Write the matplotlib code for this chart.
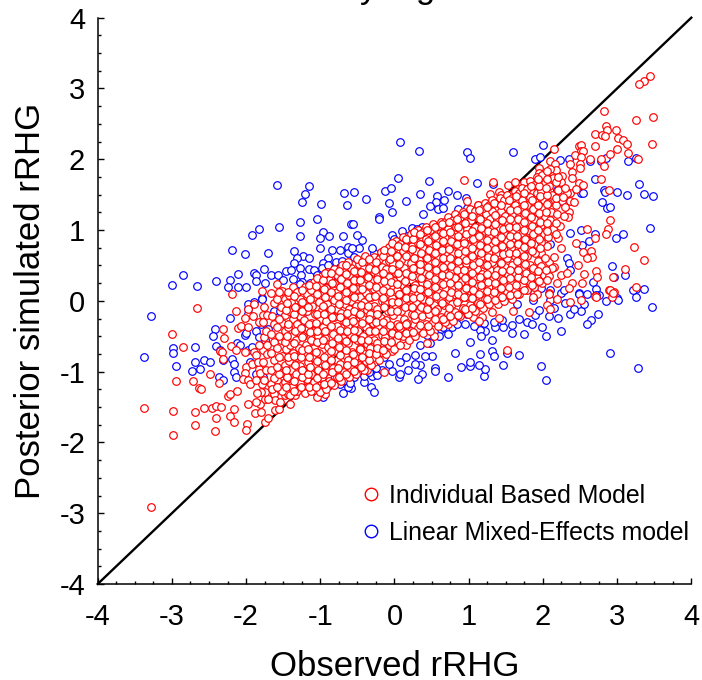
import matplotlib
matplotlib.use('Agg')
import matplotlib.pyplot as plt
from matplotlib.lines import Line2D
from matplotlib.ticker import MultipleLocator

plt.rcParams['font.family'] = ['Liberation Sans', 'DejaVu Sans']

# blue = linear mixed-effects model
lme_points = [
 (-1.59,1.64),(-1.15,1.62),(-1.20,1.51),(-1.24,1.40),(-.99,1.37),(-1.04,1.16),(-1.28,1.12),(-1.83,1.01),(-1.92,.93),(-1.55,1.04),
 (-1.27,.92),(-.97,.97),(-1.01,.89),(-.88,.91),(-.70,.92),(-.59,1.08),(-.68,1.52),(-.64,1.35),(-2.19,.72),(-2.01,.66),(-1.71,.68),
 (-1.35,.71),(-1.0,.75),(-.84,.72),(-.73,.72),(-.62,.76),(-.63,.68),(-1.23,.63),(-1.15,.61),(-1.31,.60),(-1.35,.54),(-.90,.60),
 (-.97,.53),(-.79,.55),(-.71,.57),(-3.0,.23),(-2.85,.36),(-2.66,.21),(-2.41,.28),(-2.22,.30),(-2.11,.38),(-2.25,.19),(-2.11,.19),
 (-2.0,.20),(-1.89,.40),(-1.86,.37),(-1.76,.45),(-1.87,.28),(-1.75,.25),(-1.67,.36),(-1.57,.36),(-1.46,.42),(-1.39,.43),(-1.37,.31),
 (-1.28,.46),(-1.26,.36),(-1.24,.26),(-1.15,.45),(-1.08,.44),(-1.05,.37),(-.98,.47),(-.89,.51),(-.82,.44),(-.73,.48),(-.85,.34),
 (-.76,.34),(-.64,.48),(-1.5,.29),(-1.36,.15),(-1.14,.25),(-.98,.2),(-.82,.2),(-.64,.34),(-1.79,.04),(-1.9,-.01),
 (.07,2.24),(.33,2.11),(.98,2.10),(1.02,2.02),(1.60,2.10),(2.0,2.2),(1.90,2.01),(1.96,2.03),(2.23,1.99),(2.35,2.01),(2.64,1.97),
 (2.78,1.98),(2.85,2.02),(3.15,1.98),(3.25,2.02),(2.70,1.72),(.05,1.73),(.47,1.70),(1.11,1.66),(1.33,1.65),(-.55,1.54),(-.39,1.44),
 (-.13,1.55),(-.05,1.60),(.34,1.51),(.72,1.55),(.84,1.50),(.97,1.46),(.57,1.48),(.56,1.40),(.67,1.43),(-.07,1.38),(.16,1.41),
 (-.04,1.26),(.48,1.34),(.58,1.30),(.65,1.31),(.85,1.30),(.98,1.31),(.38,1.23),(-.21,1.19),(-.21,1.16),(-.56,1.08),(3.29,1.65),
 (3.36,1.51),(3.48,1.48),(3.14,1.49),(3.0,1.54),(2.82,1.56),(2.84,1.54),(2.51,1.53),(2.54,1.52),(2.79,1.40),(2.86,1.31),(2.90,1.33),
 (2.26,1.41),(2.19,1.57),(2.37,.96),(2.52,1.0),(2.70,.94),(3.08,.94),(2.99,.89),(3.44,1.03),(2.62,.85),(2.53,.79),(2.93,.49),
 (3.10,.37),(2.96,.33),(3.36,.17),(3.25,.17),(2.67,.26),(2.71,.17),(-.04,.93),(-.02,.84),(-.44,.86),(-.50,.93),(.24,1.03),(.37,1.04),
 (.17,.91),(-.48,.74),(-.57,.74),(-.28,.67),(-.39,.60),(-.1,.72),(.15,.77),(.51,.88),(2.1,.81),(2.33,.6),(2.35,.53),(2.37,.44),
 (2.48,.11),(2.24,.11),(2.1,.15),(1.97,.18),(1.81,.69),(1.43,.5),(1.61,.48),(1.34,.15),(1.27,.11),(3.0,.04),(3.25,.06),(2.75,.08),
 (1.88,.11),(1.65,.11),(1.52,.08),
 (3.47,-.09),(3.01,.01),(2.85,0),(3.22,.16),(2.74,-.18),(2.65,-.27),(2.59,-.32),(2.52,-.14),(2.37,-.18),(2.21,-.24),(2.24,-.43),
 (2.04,-.49),(1.99,-.37),(2.08,-.22),(1.90,-.20),(1.74,-.47),(1.58,-.46),(1.58,-.34),(1.46,-.37),(1.35,-.37),(1.34,-.30),(1.22,-.42),
 (1.15,-.41),(1.16,-.50),(1.31,-.56),(1.02,-.58),(.82,-.73),(1.15,-.75),(1.31,-.71),(1.34,-.78),(1.52,-.73),(1.68,-.77),(2.90,-.73),
 (3.28,-.95),(1.97,-.92),(2.04,-1.12),(1.46,-.91),(1.21,-1.06),(1.22,-.96),(1.14,-.91),(1.02,-.92),(1.02,-.86),(.89,-.94),(.72,-1.08),
 (.55,-.95),(.55,-.99),(.51,-.78),(.41,-.78),(.27,-.76),(.15,-.79),(.37,-1.04),(.31,-1.11),(.35,-.91),(.28,-.89),(.18,-.97),(.08,-.86),
 (.06,-1.07),(.08,-1.03),(-.04,-.99),(-.14,-.79),(-.08,-.89),(-.31,-1.22),(-.28,-1.29),(-.41,-1.14),(-.30,-1.06),(-.41,-1.06),
 (-.54,-1.07),(-.58,-1.23),(-.48,-.86),(-.23,-1.05),(-.17,-.98),(.62,-.40),(.66,-.37),(.78,-.37),(.84,-.32),(.89,-.18),(.98,-.18),
 (.44,-.48),(.19,-.41),(-.01,-.58),(-.12,-.58),(1.86,.01),(1.65,-.04),(1.95,-.13),(2.48,.10),(2.28,.15),(2.55,-.04),(2.71,.08),
 (2.1,.01),(2.42,-.11),
 (-3.28,-.22),(-3.38,-.80),(-2.99,-.67),(-2.99,-.73),(-2.94,-.92),(-2.69,-.65),(-2.69,-.86),(-2.57,-.84),(-2.49,-.87),(-2.62,-.96),
 (-2.73,-.99),(-2.42,-.40),(-2.45,-.50),(-2.40,-.64),(-2.37,-1.07),(-2.31,-1.12),(-2.35,-.70),(-2.31,-.84),(-2.19,-.82),(-2.16,-.89),
 (-2.16,-1.0),(-2.13,-1.08),(-2.22,-.24),(-2.01,-.48),(-2.0,-.45),(-2.12,-.59),(-2.08,-.63),(-1.97,-.70),(-1.92,-.65),(-1.95,-.86),
 (-1.97,-.11),(-1.97,-.18),(-1.79,.03),(-1.62,-.14),(-1.54,-.14),(-1.80,-.33),(-1.71,-.40),(-1.87,-.42),(-1.82,-.51),(-1.74,-.56),
 (-1.97,-.04),(-.69,-1.30),(-.97,-1.36),(-1.07,-1.28),(-.89,-1.20),(-.74,-1.18),(-.67,-1.12),(-.62,-1.22),(-.82,-1.10),(-1.86,-1.03),
 (-1.77,-1.07),(-1.41,-.06),(-1.36,-.23),(-1.27,-.32),(-1.25,-.18),(-1.27,.24),
 (.35,-.62),(.48,-.6),(.6,-.5),(.72,-.47),(.95,-.32),(1.07,-.35),(1.2,-.31),(1.45,-.27),(1.68,-.25),(1.78,-.3),(1.85,-.33),(2.15,-.1),
 (2.3,-.03),(2.6,.1),(-.25,-.95),(-.6,-1.16),(-.35,-1.0),(-.9,.3),(-.55,.62),(-.3,.75),(0,.88),(.3,1.02),(.1,.98),
]

# red = individual based model, scattered points around the cloud
ibm_edge = [
 (-3.28,-2.91),(-3.38,-1.51),(-2.99,-1.56),(-2.99,-1.90),(-3.0,-.47),(-2.85,-.65),(-2.66,-.10),(-2.94,-1.13),(-2.72,-1.13),(-2.63,-1.23),
 (-2.61,-1.24),(-2.49,-1.04),(-2.37,-1.16),(-2.69,-1.57),(-2.57,-1.52),(-2.46,-1.51),(-2.40,-1.49),(-2.34,-1.50),(-2.41,-1.66),(-2.69,-1.76),
 (-2.42,-1.84),(-2.22,-1.63),(-2.16,-1.53),(-2.16,-1.71),(-1.99,-1.74),(-2.0,-1.82),(-1.97,-1.46),(-1.88,-1.58),(-1.80,-1.57),(-1.81,-1.46),
 (-1.87,-1.43),(-1.75,-1.38),(-1.75,-1.71),(-1.71,-1.65),(-1.61,-1.54),(-1.55,-1.53),(-1.41,-1.46),(-2.25,-1.35),(-2.22,-1.31),(-2.12,-1.28),
 (-2.31,-.40),(-2.30,-.52),(-2.35,-.71),(-2.33,-.72),(-2.31,-.82),(-2.20,-.64),(-2.13,-.69),(-2.14,-.14),(-2.19,.10),(-2.11,-.39),(-2.07,-.36),
 (-1.97,-.37),(-2.01,-.24),(-1.97,-.11),(-1.89,-.05),(-1.91,-.21),(-1.79,.14),(-1.67,.11),(-1.58,.24),(-1.76,-.08),(-1.77,-.20),(-1.72,-.20),
 (-2.01,-.72),(-1.90,-.72),(-1.86,-.77),(-1.77,-.70),(-1.72,-.63),(-2.0,-.93),(-2.01,-1.02),(-2.04,-1.11),(-1.97,-1.12),(-1.95,-1.17),
 (-1.92,-.89),(-1.83,-.96),(-1.81,-1.02),(-1.79,-1.17),(-1.75,-1.29),(-1.80,-1.29),(-1.67,-1.17),(-1.58,-1.12),(-1.62,-1.31),(-1.61,-1.40),
 (-1.47,-1.33),(-1.54,-1.43),(-1.43,-1.31),(-1.34,-1.33),(-1.05,-1.36),(-.94,-1.32),(-1.03,-1.19),(-1.18,-1.21),(-1.30,-1.24),
 (3.44,3.17),(3.36,3.11),(3.29,3.07),(2.83,2.68),(3.48,2.60),(3.26,2.55),(2.85,2.47),(2.86,2.42),(2.99,2.41),(2.70,2.36),(2.80,2.34),
 (2.84,2.33),(3.01,2.30),(3.08,2.27),(3.14,2.21),(3.47,2.22),(3.0,2.15),(2.91,2.08),(3.15,2.09),(3.28,2.01),(2.70,2.19),(2.48,2.19),
 (2.52,2.20),(2.51,2.11),(2.43,2.06),(2.54,2.11),(2.52,2.03),(2.63,2.01),(2.78,2.01),(2.83,1.90),(2.50,1.94),(2.50,1.87),(2.37,1.94),
 (2.15,2.15),(2.09,1.98),(2.16,1.93),(1.95,1.88),(1.95,1.80),(2.12,1.82),(2.18,1.85),(2.39,1.82),(2.39,1.74),(2.26,1.77),(2.25,1.68),
 (2.78,1.72),(2.48,1.66),(2.54,1.64),(2.89,1.56),(2.37,1.53),(2.33,1.52),(2.36,1.41),(2.35,1.26),(2.34,1.19),(.94,1.71),(1.33,1.68),
 (1.29,1.51),(1.41,1.54),(1.43,1.50),(1.53,1.63),(1.62,1.68),(1.75,1.68),(1.58,1.51),(1.67,1.58),(.98,1.41),(1.13,1.35),(2.90,1.14),
 (2.88,1.02),(2.85,.94),(2.59,1.02),(2.70,.89),(2.44,.82),(2.23,1.06),(2.20,.89),(3.23,.76),(3.36,.58),(2.54,.69),(2.65,.71),(2.66,.62),
 (2.59,.60),(2.24,.75),(3.10,.45),(2.72,.42),(2.73,.34),(2.47,.50),(2.56,.38),(2.53,.25),(2.95,.34),(2.39,.25),(3.25,.19),(2.89,.15),
 (2.96,.12),(2.93,.06),(2.70,.07),(2.35,.18),(2.24,.37),(2.08,.55),(2.15,.62),(2.06,.77),(2.15,.48),(2.19,.25),(2.08,.11),(2.33,.39),(1.97,.67),
 (2.71,.05),(2.51,.01),(2.37,-.01),(2.19,.02),(2.06,-.06),(2.10,-.11),(2.08,.10),(1.92,.10),(1.86,.06),(1.81,-.16),(1.60,-.14),(1.41,-.24),
 (1.32,-.16),(1.18,-.23),(1.06,-.23),(1.14,-.28),(.72,-.32),(.53,-.50),(.44,-.60),(.31,-.41),(.22,-.51),(.15,-.63),(0,-.65),(-.04,-.71),
 (-.14,-1.01),(-.19,-.70),(-.28,-.86),(-.37,-.98),(-.46,-.91),(-.53,-.98),(1.52,-.69),(2.90,.15),(2.94,.11),
]

# dense middle of the red cloud, estimated
ibm_core = [
 (-1.52,-1.27),(-1.48,-1.15),(-1.53,-1.02),(-1.47,-.91),(-1.51,-.78),(-1.46,-.68),(-1.53,-.55),(-1.48,-.42),(-1.52,-.31),(-1.47,-.2),(-1.53,-.08),(-1.48,.03),(-1.51,.14),
 (-1.41,-1.33),(-1.38,-1.21),(-1.43,-1.09),(-1.39,-.97),(-1.42,-.85),(-1.37,-.73),(-1.41,-.62),(-1.38,-.5),(-1.43,-.37),(-1.37,-.26),(-1.42,-.14),(-1.39,-.02),(-1.42,.08),(-1.37,.19),
 (-1.32,-1.28),(-1.28,-1.16),(-1.33,-1.03),(-1.27,-.92),(-1.31,-.8),(-1.29,-.67),(-1.33,-.56),(-1.27,-.45),(-1.32,-.33),(-1.28,-.21),(-1.33,-.09),(-1.28,.03),(-1.31,.12),
 (-1.21,-1.3),(-1.18,-1.1),(-1.23,-.98),(-1.17,-.86),(-1.22,-.74),(-1.19,-.62),(-1.23,-.5),(-1.17,-.38),(-1.22,-.27),(-1.18,-.15),(-1.22,-.03),(-1.18,.09),(-1.21,.2),
 (-1.12,-1.27),(-1.08,-1.15),(-1.13,-1.03),(-1.07,-.91),(-1.11,-.79),(-1.09,-.67),(-1.13,-.55),(-1.08,-.43),(-1.12,-.31),(-1.07,-.19),(-1.11,-.07),(-1.08,.05),(-1.12,.16),(-1.08,.27),
 (-1.01,-1.29),(-.98,-1.08),(-1.03,-.97),(-.97,-.85),(-1.02,-.73),(-.98,-.61),(-1.03,-.49),(-.97,-.37),(-1.01,-.25),(-.98,-.13),(-1.02,-.01),(-.97,.11),(-1.01,.23),(-.98,.35),
 (-.92,-1.24),(-.88,-1.13),(-.93,-1.01),(-.87,-.89),(-.91,-.77),(-.89,-.65),(-.93,-.53),(-.88,-.41),(-.92,-.29),(-.87,-.17),(-.91,-.05),(-.88,.07),(-.92,.18),(-.88,.3),(-.91,.41),
 (-.81,-1.19),(-.78,-1.07),(-.83,-.95),(-.77,-.83),(-.82,-.71),(-.78,-.59),(-.83,-.47),(-.77,-.35),(-.81,-.23),(-.78,-.11),(-.82,.01),(-.77,.13),(-.81,.25),(-.78,.36),(-.82,.45),
 (-.72,-1.13),(-.68,-1.01),(-.73,-.89),(-.67,-.77),(-.71,-.65),(-.69,-.53),(-.73,-.41),(-.68,-.29),(-.72,-.17),(-.67,-.05),(-.71,.07),(-.68,.19),(-.72,.31),(-.68,.42),(-.71,.5),
 (-.61,-1.08),(-.58,-.96),(-.63,-.84),(-.57,-.72),(-.62,-.6),(-.58,-.48),(-.63,-.36),(-.57,-.24),(-.61,-.12),(-.58,0),(-.62,.12),(-.57,.24),(-.61,.36),(-.58,.47),(-.62,.55),
 (-.52,-1.03),(-.48,-.91),(-.53,-.79),(-.47,-.67),(-.51,-.55),(-.49,-.43),(-.53,-.31),(-.48,-.19),(-.52,-.07),(-.47,.05),(-.51,.17),(-.48,.29),(-.52,.41),(-.48,.52),(-.5,.59),
 (-.41,-.97),(-.38,-.85),(-.43,-.73),(-.37,-.61),(-.42,-.49),(-.38,-.37),(-.43,-.25),(-.37,-.13),(-.41,-.01),(-.38,.11),(-.42,.23),(-.37,.35),(-.41,.47),(-.38,.57),(-.4,.63),
 (-.32,-.9),(-.28,-.79),(-.33,-.67),(-.27,-.55),(-.31,-.43),(-.29,-.31),(-.33,-.19),(-.28,-.07),(-.32,.05),(-.27,.17),(-.31,.29),(-.28,.41),(-.32,.53),(-.28,.62),
 (-.21,-.84),(-.18,-.72),(-.23,-.6),(-.17,-.48),(-.22,-.36),(-.18,-.24),(-.23,-.12),(-.17,0),(-.21,.12),(-.18,.24),(-.22,.36),(-.17,.48),(-.21,.59),(-.18,.69),
 (-.12,-.75),(-.08,-.63),(-.13,-.51),(-.07,-.39),(-.11,-.27),(-.09,-.15),(-.13,-.03),(-.08,.09),(-.12,.21),(-.07,.33),(-.11,.45),(-.08,.57),(-.12,.68),(-.08,.76),
 (-.01,-.68),(.02,-.56),(-.03,-.44),(.03,-.32),(-.02,-.2),(.02,-.08),(-.03,.04),(.03,.16),(-.01,.28),(.02,.4),(-.02,.52),(.03,.64),(-.01,.75),(.02,.85),
 (.08,-.62),(.12,-.5),(.07,-.38),(.13,-.26),(.09,-.14),(.11,-.02),(.07,.1),(.12,.22),(.08,.34),(.13,.46),(.09,.58),(.12,.7),(.08,.81),(.12,.9),
 (.19,-.55),(.22,-.43),(.17,-.31),(.23,-.19),(.18,-.07),(.22,.05),(.17,.17),(.23,.29),(.19,.41),(.22,.53),(.18,.65),(.23,.77),(.19,.87),(.22,.95),
 (.28,-.5),(.32,-.38),(.27,-.26),(.33,-.14),(.29,-.02),(.31,.1),(.27,.22),(.32,.34),(.28,.46),(.33,.58),(.29,.7),(.32,.82),(.28,.92),(.32,1.0),
 (.39,-.45),(.42,-.33),(.37,-.21),(.43,-.09),(.38,.03),(.42,.15),(.37,.27),(.43,.39),(.39,.51),(.42,.63),(.38,.75),(.43,.87),(.39,.97),(.42,1.05),
 (.48,-.42),(.52,-.3),(.47,-.18),(.53,-.06),(.49,.06),(.51,.18),(.47,.3),(.52,.42),(.48,.54),(.53,.66),(.49,.78),(.52,.9),(.48,1.0),(.52,1.08),
 (.59,-.35),(.62,-.23),(.57,-.11),(.63,.01),(.58,.13),(.62,.25),(.57,.37),(.63,.49),(.59,.61),(.62,.73),(.58,.85),(.63,.97),(.59,1.06),(.62,1.12),
 (.68,-.3),(.72,-.18),(.67,-.06),(.73,.06),(.69,.18),(.71,.3),(.67,.42),(.72,.54),(.68,.66),(.73,.78),(.69,.9),(.72,1.02),(.68,1.11),(.72,1.18),
 (.79,-.28),(.82,-.16),(.77,-.04),(.83,.08),(.78,.2),(.82,.32),(.77,.44),(.83,.56),(.79,.68),(.82,.8),(.78,.92),(.83,1.04),(.79,1.14),(.82,1.22),
 (.88,-.22),(.92,-.1),(.87,.02),(.93,.14),(.89,.26),(.91,.38),(.87,.5),(.92,.62),(.88,.74),(.93,.86),(.89,.98),(.92,1.1),(.88,1.18),(.92,1.25),
 (.99,-.18),(1.02,-.06),(.97,.06),(1.03,.18),(.98,.3),(1.02,.42),(.97,.54),(1.03,.66),(.99,.78),(1.02,.9),(.98,1.02),(1.03,1.14),(.99,1.23),(1.02,1.3),
 (1.08,-.15),(1.12,-.03),(1.07,.09),(1.13,.21),(1.09,.33),(1.11,.45),(1.07,.57),(1.12,.69),(1.08,.81),(1.13,.93),(1.09,1.05),(1.12,1.17),(1.08,1.27),(1.12,1.35),
 (1.19,-.1),(1.22,.02),(1.17,.14),(1.23,.26),(1.18,.38),(1.22,.5),(1.17,.62),(1.23,.74),(1.19,.86),(1.22,.98),(1.18,1.1),(1.23,1.22),(1.19,1.31),(1.22,1.38),
 (1.28,-.05),(1.32,.07),(1.27,.19),(1.33,.31),(1.29,.43),(1.31,.55),(1.27,.67),(1.32,.79),(1.28,.91),(1.33,1.03),(1.29,1.15),(1.32,1.27),(1.28,1.36),(1.32,1.42),
 (1.39,-.05),(1.42,.07),(1.37,.19),(1.43,.31),(1.38,.43),(1.42,.55),(1.37,.67),(1.43,.79),(1.39,.91),(1.42,1.03),(1.38,1.15),(1.43,1.27),(1.39,1.38),(1.42,1.45),
 (1.48,0),(1.52,.12),(1.47,.24),(1.53,.36),(1.49,.48),(1.51,.6),(1.47,.72),(1.52,.84),(1.48,.96),(1.53,1.08),(1.49,1.2),(1.52,1.32),(1.48,1.42),(1.52,1.5),
 (1.59,.03),(1.62,.15),(1.57,.27),(1.63,.39),(1.58,.51),(1.62,.63),(1.57,.75),(1.63,.87),(1.59,.99),(1.62,1.11),(1.58,1.23),(1.63,1.35),(1.59,1.46),(1.62,1.55),
 (1.68,.1),(1.72,.22),(1.67,.34),(1.73,.46),(1.69,.58),(1.71,.7),(1.67,.82),(1.72,.94),(1.68,1.06),(1.73,1.18),(1.69,1.3),(1.72,1.42),(1.68,1.52),(1.72,1.6),
 (1.79,.15),(1.82,.27),(1.77,.39),(1.83,.51),(1.78,.63),(1.82,.75),(1.77,.87),(1.83,.99),(1.79,1.11),(1.82,1.23),(1.78,1.35),(1.83,1.47),(1.79,1.58),(1.82,1.7),
 (1.88,.2),(1.92,.32),(1.87,.44),(1.93,.56),(1.89,.68),(1.91,.8),(1.87,.92),(1.92,1.04),(1.88,1.16),(1.93,1.28),(1.89,1.4),(1.92,1.52),(1.88,1.64),(1.92,1.75),
 (1.99,.25),(2.02,.37),(1.97,.49),(2.03,.61),(1.98,.83),(2.02,.95),(1.97,1.07),(2.03,1.19),(1.99,1.31),(2.02,1.43),(1.98,1.55),(2.03,1.67),(1.99,1.78),
 (2.08,.35),(2.12,.47),(2.07,.9),(2.13,1.02),(2.09,1.14),(2.11,1.26),(2.07,1.38),(2.12,1.5),(2.08,1.62),(2.13,1.74),(2.09,1.86),
]

# more of the dense middle, sitting in the gaps of the first lot
ibm_core_gaps = [
 (-1.86,-1.12),(-1.84,-.86),(-1.82,-.62),(-1.85,-1.3),(-1.7,-1.38),(-1.83,-.3),
 (-1.76,-1.12),(-1.73,-.98),(-1.77,-.86),(-1.72,-.75),(-1.76,-.51),(-1.73,-.42),(-1.77,-.3),
 (-1.65,-1.25),(-1.63,-1.09),(-1.67,-.97),(-1.62,-.84),(-1.66,-.73),(-1.63,-.58),(-1.67,-.47),(-1.62,-.33),(-1.65,-.22),(-1.63,-.03),
 (-1.58,-1.21),(-1.56,-1.04),(-1.59,-.93),(-1.55,-.8),(-1.58,-.67),(-1.56,-.49),(-1.59,-.37),(-1.55,-.25),(-1.58,.03),(-1.56,.13),
 (-1.46,-1.22),(-1.45,-1.08),(-1.46,-.97),(-1.44,-.8),(-1.47,-.58),(-1.45,-.49),(-1.44,-.33),(-1.46,-.13),(-1.45,-.03),(-1.44,.12),
 (-1.35,-1.28),(-1.36,-1.13),(-1.34,-.91),(-1.35,-.78),(-1.36,-.59),(-1.34,-.42),(-1.35,-.19),(-1.34,-.08),(-1.35,.07),
 (-1.26,-1.22),(-1.25,-1.07),(-1.24,-.97),(-1.26,-.79),(-1.24,-.69),(-1.25,-.51),(-1.26,-.39),(-1.24,-.14),(-1.25,-.02),(-1.24,.15),
 (-1.15,-1.21),(-1.16,-1.04),(-1.14,-.93),(-1.15,-.8),(-1.16,-.68),(-1.14,-.44),(-1.15,-.33),(-1.16,-.09),(-1.14,.03),(-1.15,.22),
 (-1.06,-1.22),(-1.04,-1.09),(-1.05,-.85),(-1.06,-.72),(-1.04,-.58),(-1.05,-.43),(-1.06,-.31),(-1.04,-.19),(-1.05,.1),(-1.06,.21),(-1.04,.32),
 (-.95,-1.18),(-.96,-1.03),(-.94,-.91),(-.95,-.79),(-.96,-.55),(-.94,-.43),(-.95,-.19),(-.96,-.07),(-.94,.05),(-.95,.17),(-.96,.29),(-.94,.39),
 (-.85,-1.16),(-.84,-1.01),(-.86,-.83),(-.85,-.71),(-.84,-.59),(-.86,-.35),(-.84,-.23),(-.85,-.11),(-.86,.13),(-.84,.25),(-.85,.39),
 (-.75,-1.08),(-.76,-.95),(-.74,-.77),(-.75,-.65),(-.76,-.53),(-.74,-.23),(-.75,-.05),(-.76,.07),(-.74,.19),(-.75,.42),
 (-.65,-1.04),(-.64,-.91),(-.66,-.69),(-.65,-.57),(-.64,-.43),(-.66,-.3),(-.64,-.17),(-.65,.01),(-.66,.13),(-.64,.25),(-.65,.38),(-.66,.51),
 (-.55,-.99),(-.54,-.87),(-.56,-.75),(-.55,-.53),(-.54,-.41),(-.56,-.29),(-.55,-.15),(-.54,.06),(-.56,.18),(-.55,.3),(-.54,.42),
 (-.45,-.93),(-.44,-.8),(-.46,-.68),(-.45,-.56),(-.44,-.31),(-.46,-.19),(-.45,-.06),(-.44,.17),(-.46,.29),(-.45,.41),(-.44,.55),
 (-.35,-.84),(-.34,-.73),(-.36,-.55),(-.35,-.43),(-.34,-.25),(-.36,-.07),(-.35,.05),(-.34,.22),(-.36,.34),(-.35,.46),(-.34,.59),
 (-.25,-.75),(-.24,-.66),(-.26,-.42),(-.25,-.3),(-.24,-.18),(-.26,.07),(-.25,.19),(-.24,.31),(-.26,.44),(-.25,.55),
 (-.15,-.69),(-.14,-.57),(-.16,-.42),(-.15,-.3),(-.14,-.09),(-.16,.04),(-.15,.16),(-.14,.28),(-.16,.4),(-.15,.63),(-.14,.72),
 (-.05,-.58),(-.04,-.46),(-.06,-.34),(-.05,-.14),(-.04,-.02),(-.06,.12),(-.05,.27),(-.04,.45),(-.06,.59),(-.05,.7),(-.04,.82),
 (.05,-.48),(.06,-.36),(.04,-.14),(.05,-.02),(.06,.1),(.04,.24),(.05,.4),(.06,.52),(.04,.64),(.05,.78),
 (.15,-.45),(.16,-.33),(.14,-.09),(.15,.04),(.16,.16),(.14,.28),(.15,.4),(.16,.64),(.14,.76),(.15,.87),
 (.25,-.44),(.26,-.2),(.24,-.08),(.25,.04),(.26,.18),(.24,.35),(.25,.47),(.26,.61),(.24,.73),(.25,.88),(.26,.97),
 (.35,-.34),(.36,-.08),(.34,.05),(.35,.17),(.36,.32),(.34,.44),(.35,.52),(.36,.68),(.34,.81),(.35,.94),
 (.45,-.36),(.44,-.12),(.46,.0),(.45,.12),(.44,.24),(.46,.36),(.45,.48),(.44,.6),(.46,.72),(.45,.84),(.44,1.0),
 (.55,-.26),(.54,-.14),(.56,.07),(.55,.19),(.54,.31),(.56,.43),(.55,.55),(.54,.67),(.56,.79),(.55,.92),(.54,1.04),
 (.65,-.25),(.64,-.03),(.66,.09),(.65,.24),(.64,.36),(.66,.48),(.65,.6),(.64,.72),(.66,.84),(.65,.96),(.64,1.08),
 (.75,-.22),(.74,-.1),(.76,.13),(.75,.25),(.74,.37),(.76,.49),(.75,.61),(.74,.73),(.76,.85),(.75,.97),(.74,1.12),
 (.85,-.2),(.84,-.02),(.86,.1),(.85,.22),(.84,.44),(.86,.56),(.85,.68),(.84,.8),(.86,.92),(.85,1.04),(.84,1.16),
 (.95,-.12),(.94,.05),(.96,.18),(.95,.32),(.94,.44),(.96,.58),(.95,.7),(.94,.82),(.96,.94),(.95,1.1),(.94,1.22),
 (1.05,-.1),(1.04,.04),(1.06,.16),(1.05,.27),(1.04,.39),(1.06,.51),(1.05,.63),(1.04,.75),(1.06,.87),(1.05,.99),(1.04,1.2),
 (1.15,-.04),(1.14,.1),(1.16,.22),(1.15,.34),(1.14,.55),(1.16,.67),(1.15,.79),(1.14,.91),(1.16,1.03),(1.15,1.15),(1.14,1.29),
 (1.25,.02),(1.24,.14),(1.26,.26),(1.25,.38),(1.24,.5),(1.26,.62),(1.25,.74),(1.24,.86),(1.26,.98),(1.25,1.1),(1.24,1.33),
 (1.35,.01),(1.34,.13),(1.36,.25),(1.35,.37),(1.34,.6),(1.36,.73),(1.35,.85),(1.34,.97),(1.36,1.09),(1.35,1.21),(1.34,1.38),
 (1.45,.06),(1.44,.18),(1.46,.3),(1.45,.42),(1.44,.54),(1.46,.66),(1.45,.78),(1.44,.9),(1.46,1.02),(1.45,1.14),(1.44,1.35),
 (1.55,.08),(1.54,.2),(1.56,.32),(1.55,.44),(1.54,.68),(1.56,.8),(1.55,.92),(1.54,1.04),(1.56,1.16),(1.55,1.28),(1.54,1.42),
 (1.65,.1),(1.64,.22),(1.66,.44),(1.65,.56),(1.64,.68),(1.66,.8),(1.65,.92),(1.64,1.04),(1.66,1.16),(1.65,1.28),(1.64,1.48),
 (1.75,.16),(1.74,.3),(1.76,.52),(1.75,.64),(1.74,.76),(1.76,.88),(1.75,1.0),(1.74,1.12),(1.76,1.24),(1.75,1.36),(1.74,1.52),
 (1.85,.22),(1.84,.34),(1.86,.46),(1.85,.7),(1.84,.82),(1.86,.94),(1.85,1.06),(1.84,1.18),(1.86,1.3),(1.85,1.42),(1.84,1.62),
 (1.95,.28),(1.94,.42),(1.96,.74),(1.95,.88),(1.94,1.0),(1.96,1.12),(1.95,1.24),(1.94,1.36),(1.96,1.48),(1.95,1.62),(1.94,1.72),
 (2.05,.3),(2.04,.43),(2.06,.98),(2.05,1.1),(2.04,1.25),(2.06,1.37),(2.05,1.49),(2.04,1.6),(2.06,1.72),(2.05,1.84),
 (2.18,.95),(2.17,1.1),(2.19,1.22),(2.18,1.35),(2.17,1.45),(2.2,1.57),(2.17,1.68),(2.2,1.75),
 (2.28,1.2),(2.3,1.33),(2.27,1.47),(2.3,1.6),(2.45,1.58),(2.42,1.4),
]

line_ends = [-4, 4]
ticks = [-4, -3, -2, -1, 0, 1, 2, 3, 4]
ibm_label = 'Individual Based Model'
lme_label = 'Linear Mixed-Effects model'
title_scrap = 'y    g'  # only the tails of the cut off title are in the picture

fig = plt.figure(figsize=(7.02, 6.80), dpi=100)
ax = fig.add_axes([97.7/702, 1-584/680, (691.3-97.7)/702, (584-17.7)/680])

ax.plot(line_ends, line_ends, color='black', lw=1.7, zorder=1, clip_on=False)

lx, ly = zip(*lme_points)
ax.scatter(lx, ly, s=30, facecolor='white', edgecolor='#0000ff', linewidth=0.85, zorder=2)
ibm = ibm_edge + ibm_core + ibm_core_gaps
rx, ry = zip(*ibm)
ax.scatter(rx, ry, s=30, facecolor='white', edgecolor='#ff0000', linewidth=0.85, zorder=3)

ax.set_xlim(-4, 4)
ax.set_ylim(-4, 4)
ax.set_xticks(ticks)
ax.set_yticks(ticks)
ax.set_xticklabels([str(t) for t in ticks])
ax.set_yticklabels([str(t) for t in ticks])
ax.xaxis.set_minor_locator(MultipleLocator(0.25))
ax.yaxis.set_minor_locator(MultipleLocator(0.25))
ax.tick_params(which='major', direction='in', length=4, width=1, labelsize=21)
ax.tick_params(which='minor', direction='in', length=2.2, width=1)
ax.tick_params(axis='x', which='major', pad=14)
ax.tick_params(axis='y', which='major', pad=9)
ax.spines['top'].set_visible(False)
ax.spines['right'].set_visible(False)
ax.spines['left'].set_linewidth(1.1)
ax.spines['bottom'].set_linewidth(1.1)

ax.set_xlabel('Observed rRHG', fontsize=25, labelpad=13)
ax.set_ylabel('Posterior simulated rRHG', fontsize=25, labelpad=9)

fig.text(398/702, 1+2/680, title_scrap, fontsize=25, ha='center', va='baseline')

handles = [
    Line2D([], [], ls='', marker='o', ms=9, mfc='white', mec='#ff0000', mew=1, label=ibm_label),
    Line2D([], [], ls='', marker='o', ms=9, mfc='white', mec='#0000ff', mew=1, label=lme_label),
]
ax.legend(handles=handles, loc='lower right', bbox_to_anchor=(0.9961, 0.069), frameon=False,
          fontsize=17.9, labelspacing=0.53, handlelength=1, handletextpad=0.24, borderpad=0, borderaxespad=0)

fig.savefig('out.png', dpi=100)
